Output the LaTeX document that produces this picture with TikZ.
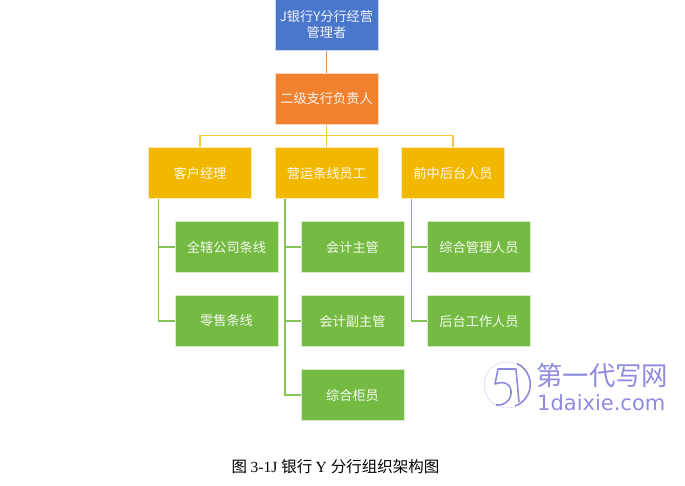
\documentclass[tikz,border=0pt]{standalone}
\usepackage{fontspec}
\setmainfont{Liberation Serif}
\newfontfamily\cjk{Noto Sans CJK SC}
\newfontfamily\wmlat{DejaVu Sans}
\definecolor{cblue}{HTML}{4A76CC}
\definecolor{corange}{HTML}{F0812F}
\definecolor{cyellow}{HTML}{F2B800}
\definecolor{cgreen}{HTML}{75BB43}
\definecolor{lorange}{HTML}{E98A4E}
\definecolor{lyellow}{HTML}{F7C93E}
\definecolor{lgreen}{HTML}{85C25A}
\definecolor{wm}{HTML}{8F8BE0}
\tikzset{
  x=1pt,y=-1pt,
  orgbox/.style={draw=white!70!#1,line width=0.6pt,fill=#1,text=white!92!#1,minimum width=103pt,minimum height=51pt,inner sep=1pt,align=center,font=\cjk\fontsize{13.2}{16.5}\selectfont,anchor=center},
  link/.style={line width=1.7pt,color=#1},
  wmtext/.style={text=wm,inner sep=0pt,anchor=west},
}
\begin{document}
\begin{tikzpicture}
\useasboundingbox (0,0) rectangle (685,486);
\node[orgbox=cblue,minimum height=52pt] (top) at (326.5,24.5) {J银行Y分行经营\\管理者};
\node[orgbox=corange] (mgr) at (326.5,98.5) {二级支行负责人};
\node[orgbox=cyellow] (a) at (200,173) {客户经理};
\node[orgbox=cyellow] (b) at (326.5,173) {营运条线员工};
\node[orgbox=cyellow] (c) at (453,173) {前中后台人员};
\node[orgbox=cgreen] (a1) at (226.5,247) {全辖公司条线};
\node[orgbox=cgreen] (a2) at (226.5,321) {零售条线};
\node[orgbox=cgreen] (b1) at (352.5,247) {会计主管};
\node[orgbox=cgreen] (b2) at (352.5,321) {会计副主管};
\node[orgbox=cgreen] (b3) at (352.5,395) {综合柜员};
\node[orgbox=cgreen] (c1) at (479,247) {综合管理人员};
\node[orgbox=cgreen] (c2) at (479,321) {后台工作人员};
\draw[link=lorange] (top.south) -- (mgr.north);
\coordinate (busY) at (0,135.5);
\draw[link=lyellow] (mgr.south) -- (b.north);
\draw[link=lyellow] (a.north) |- (busY -| mgr.south) -| (c.north);
\foreach \p/\k in {a/a1,a/a2,b/b1,b/b2,b/b3,c/c1,c/c2}{
  \coordinate (\k s) at ([xshift=-41.5pt]\p.south);
  \draw[link=lgreen] (\k s) |- (\k.west);
}
\node[font=\cjk\fontsize{15.5}{18}\selectfont,inner sep=0pt] (cap) at (335.5,467) {图 \fontspec{Liberation Serif}3-1J \cjk 银行 \fontspec{Liberation Serif}Y \cjk 分行组织架构图};
% watermark
\draw[wm!40,line width=0.5pt] (507,385) circle (23);
\draw[wm,line width=1.6pt] (517,363.5) arc (-65:70:23);
\draw[wm,line width=1.6pt,line join=round] (516,369) -- (498,369) -- (495,384) .. controls (505,380) and (512,385) .. (511,394) .. controls (510,402) and (503,406) .. (496,405);
\draw[wm,line width=1.6pt] (516,369) -- (519,402);
\node[wmtext,font=\cjk\fontsize{26.4}{28}\selectfont] (wm1) at (536,375) {第一代写网};
\node[wmtext,font=\wmlat\fontsize{21}{24}\selectfont] (wm2) at (537,403) {1daixie.com};
\end{tikzpicture}
\end{document}
